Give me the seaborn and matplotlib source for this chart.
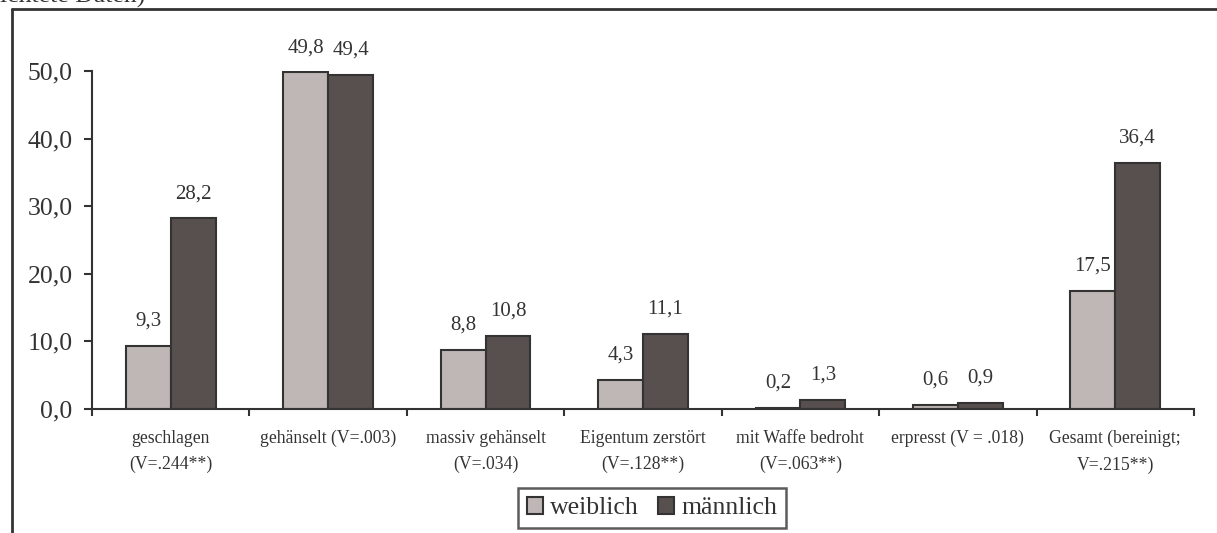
import seaborn as sns
import pandas as pd
import matplotlib.pyplot as plt
from matplotlib.lines import Line2D
from matplotlib.ticker import FixedLocator

# categories and values (percent)
kategorien = ["geschlagen\n(V=.244**)", "gehänselt (V=.003)", "massiv gehänselt\n(V=.034)",
              "Eigentum zerstört\n(V=.128**)", "mit Waffe bedroht\n(V=.063**)",
              "erpresst (V = .018)", "Gesamt (bereinigt;\nV=.215**)"]
weiblich = [9.3, 49.8, 8.8, 4.3, 0.2, 0.6, 17.5]
maennlich = [28.2, 49.4, 10.8, 11.1, 1.3, 0.9, 36.4]
gruppen = ["weiblich", "männlich"]
farben = ["#C0B6B3", "#594F4C"]
ytick_werte = [0, 10, 20, 30, 40, 50]

dunkel = "#333333"

df = pd.DataFrame({
    "kategorie": kategorien * 2,
    "wert": weiblich + maennlich,
    "geschlecht": [gruppen[0]] * len(kategorien) + [gruppen[1]] * len(kategorien),
})

sns.set_style("white")
plt.rcParams["font.family"] = ["Liberation Serif", "DejaVu Serif"]
plt.rcParams["text.color"] = dunkel

fig = plt.figure(figsize=(12.17, 5.33), dpi=100)
ax = fig.add_axes([92 / 1217, 1 - 409 / 533, 1102 / 1217, 338 / 533])

sns.barplot(data=df, x="kategorie", y="wert", hue="geschlecht", palette=farben,
            width=0.57, edgecolor=dunkel, linewidth=1.5, errorbar=None, ax=ax)

for cont, werte in zip(ax.containers, [weiblich, maennlich]):
    ax.bar_label(cont, labels=[f"{v:.1f}".replace(".", ",") for v in werte],
                 padding=11, fontsize=15, color=dunkel)

ax.set_xlim(-0.5, len(kategorien) - 0.5)
ax.set_ylim(0, 50)
ax.set_yticks(ytick_werte)
ax.set_yticklabels([f"{v:.1f}".replace(".", ",") for v in ytick_werte], fontsize=18.5, color=dunkel)
ax.tick_params(axis="y", direction="out", length=6, width=1.5, color=dunkel, pad=8, left=True)

ax.set_xticks(range(len(kategorien)))
ax.set_xticklabels(kategorien, fontsize=12.7, color=dunkel, linespacing=1.7)
ax.tick_params(axis="x", which="major", length=0, pad=15)
ax.xaxis.set_minor_locator(FixedLocator([i - 0.5 for i in range(len(kategorien) + 1)]))
ax.tick_params(axis="x", which="minor", direction="out", length=5, width=1.5, color=dunkel, bottom=True)

ax.set_xlabel("")
ax.set_ylabel("")
for s in ["top", "right"]:
    ax.spines[s].set_visible(False)
for s in ["left", "bottom"]:
    ax.spines[s].set_color(dunkel)
    ax.spines[s].set_linewidth(1.5)

ax.get_legend().remove()
handles, labels = ax.get_legend_handles_labels()
leg = fig.legend(handles, labels, loc="center", bbox_to_anchor=(652 / 1217, 1 - 508 / 533),
                 ncol=2, fontsize=18.5, frameon=True, fancybox=False,
                 handlelength=0.62, handleheight=0.65, handletextpad=0.27,
                 columnspacing=0.78, borderpad=0.35, borderaxespad=0)
leg.get_frame().set_edgecolor(dunkel)
leg.get_frame().set_linewidth(1.8)

# outer frame of the original figure box (cropped)
fig.add_artist(Line2D([12 / 1217, 12 / 1217], [0, 1 - 9 / 533], color=dunkel, lw=2, transform=fig.transFigure))
fig.add_artist(Line2D([12 / 1217, 1], [1 - 9 / 533, 1 - 9 / 533], color=dunkel, lw=2, transform=fig.transFigure))

# caption above, cut off by the crop
fig.text(145 / 1217, 1 - 2.5 / 533, "gewichtete Daten)", ha="right", va="baseline", fontsize=18.5, color=dunkel)

fig.savefig("out.png", dpi=100)
